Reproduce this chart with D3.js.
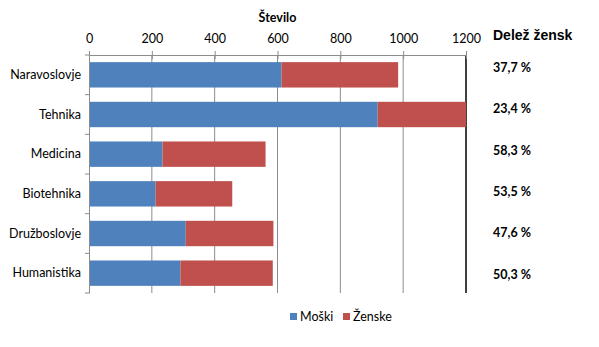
<!DOCTYPE html>
<html><head><meta charset="utf-8">
<script src="https://cdn.jsdelivr.net/npm/d3@7"></script>
<style>body{margin:0;background:#fff}svg{display:block}</style>
</head><body>
<script>
const categories = ["Naravoslovje","Tehnika","Medicina","Biotehnika","Družboslovje","Humanistika"];
const moski = [613, 919, 234, 212, 308, 291];
const zenske = [371, 281, 328, 244, 279, 294];
const shares = ["37,7 %","23,4 %","58,3 %","53,5 %","47,6 %","50,3 %"];
const ticks = [0,200,400,600,800,1000,1200];
const seriesNames = ["Moški","Ženske"];
const colors = ["#4F81BD","#C0504D"];

const W=599,H=347;
const svg=d3.select("body").append("svg").attr("width",W).attr("height",H);
const font="Lato, 'Open Sans', sans-serif";
const x=d3.scaleLinear().domain([0,1200]).range([89,466]);
const y=d3.scaleBand().domain(categories).range([55,293]).paddingInner(0.36).paddingOuter(0.18);
const yb=d3.scaleBand().domain(categories).range([55,293]);

// gridlines
svg.append("g").selectAll("line").data(ticks.slice(1,-1)).join("line")
 .attr("x1",d=>x(d)).attr("x2",d=>x(d)).attr("y1",55).attr("y2",293)
 .attr("stroke","#8c8c8c").attr("stroke-width",1);
// right border
svg.append("line").attr("x1",x(1200)).attr("x2",x(1200)).attr("y1",55).attr("y2",293)
 .attr("stroke","#000").attr("stroke-width",1.5);

// bars
const stack=d3.stack().keys([0,1]).value((d,k)=>d[k])(categories.map((c,i)=>[moski[i],zenske[i]]));
svg.append("g").selectAll("g").data(stack).join("g").attr("fill",(d,i)=>colors[i])
 .selectAll("rect").data(d=>d).join("rect")
 .attr("x",d=>x(d[0])).attr("width",d=>Math.min(x(d[1]),x(1200))-x(d[0]))
 .attr("y",(d,i)=>y(categories[i])).attr("height",y.bandwidth());

// top axis
const ax=svg.append("g").attr("transform","translate(0,55)")
 .call(d3.axisTop(x).tickValues(ticks).tickFormat(d3.format("d")).tickSize(4).tickSizeOuter(0).tickPadding(8));
ax.select(".domain").attr("stroke","#8c8c8c");
ax.selectAll(".tick line").attr("stroke","#8c8c8c").attr("y2",-4).attr("y1",4);
ax.selectAll("text").attr("font-family",font).attr("font-size",12.5).attr("fill","#000");

// left axis
const ay=svg.append("g").attr("transform","translate(89,0)")
 .call(d3.axisLeft(yb).tickSize(0).tickPadding(8));
ay.select(".domain").attr("stroke","#8c8c8c");
ay.selectAll("text").attr("font-family",font).attr("font-size",12.5).attr("fill","#000");
svg.append("g").selectAll("line").data(d3.range(categories.length+1)).join("line")
 .attr("x1",85).attr("x2",89).attr("y1",i=>55+i*yb.step()).attr("y2",i=>55+i*yb.step())
 .attr("stroke","#8c8c8c");

// title
svg.append("text").attr("x",(x(0)+x(1200))/2).attr("y",22).attr("text-anchor","middle")
 .attr("font-family",font).attr("font-size",12.5).attr("font-weight","bold").text("Število");

// share column
svg.append("text").attr("x",493).attr("y",40).attr("font-family","'Liberation Sans', Arial, sans-serif")
 .attr("font-size",14).attr("font-weight","bold").text("Delež žensk");
svg.append("g").selectAll("text").data(shares).join("text")
 .attr("x",493).attr("y",(d,i)=>72+i*41.3).attr("font-family",font).attr("font-size",12.5)
 .attr("font-weight","bold").text(d=>d);

// legend
const lg=svg.append("g");
const lx=[290,343];
seriesNames.forEach((n,i)=>{
 lg.append("rect").attr("x",lx[i]).attr("y",313).attr("width",7).attr("height",7).attr("fill",colors[i]);
 lg.append("text").attr("x",lx[i]+10).attr("y",321).attr("font-family",font).attr("font-size",12.5).text(n);
});
</script>
</body></html>
